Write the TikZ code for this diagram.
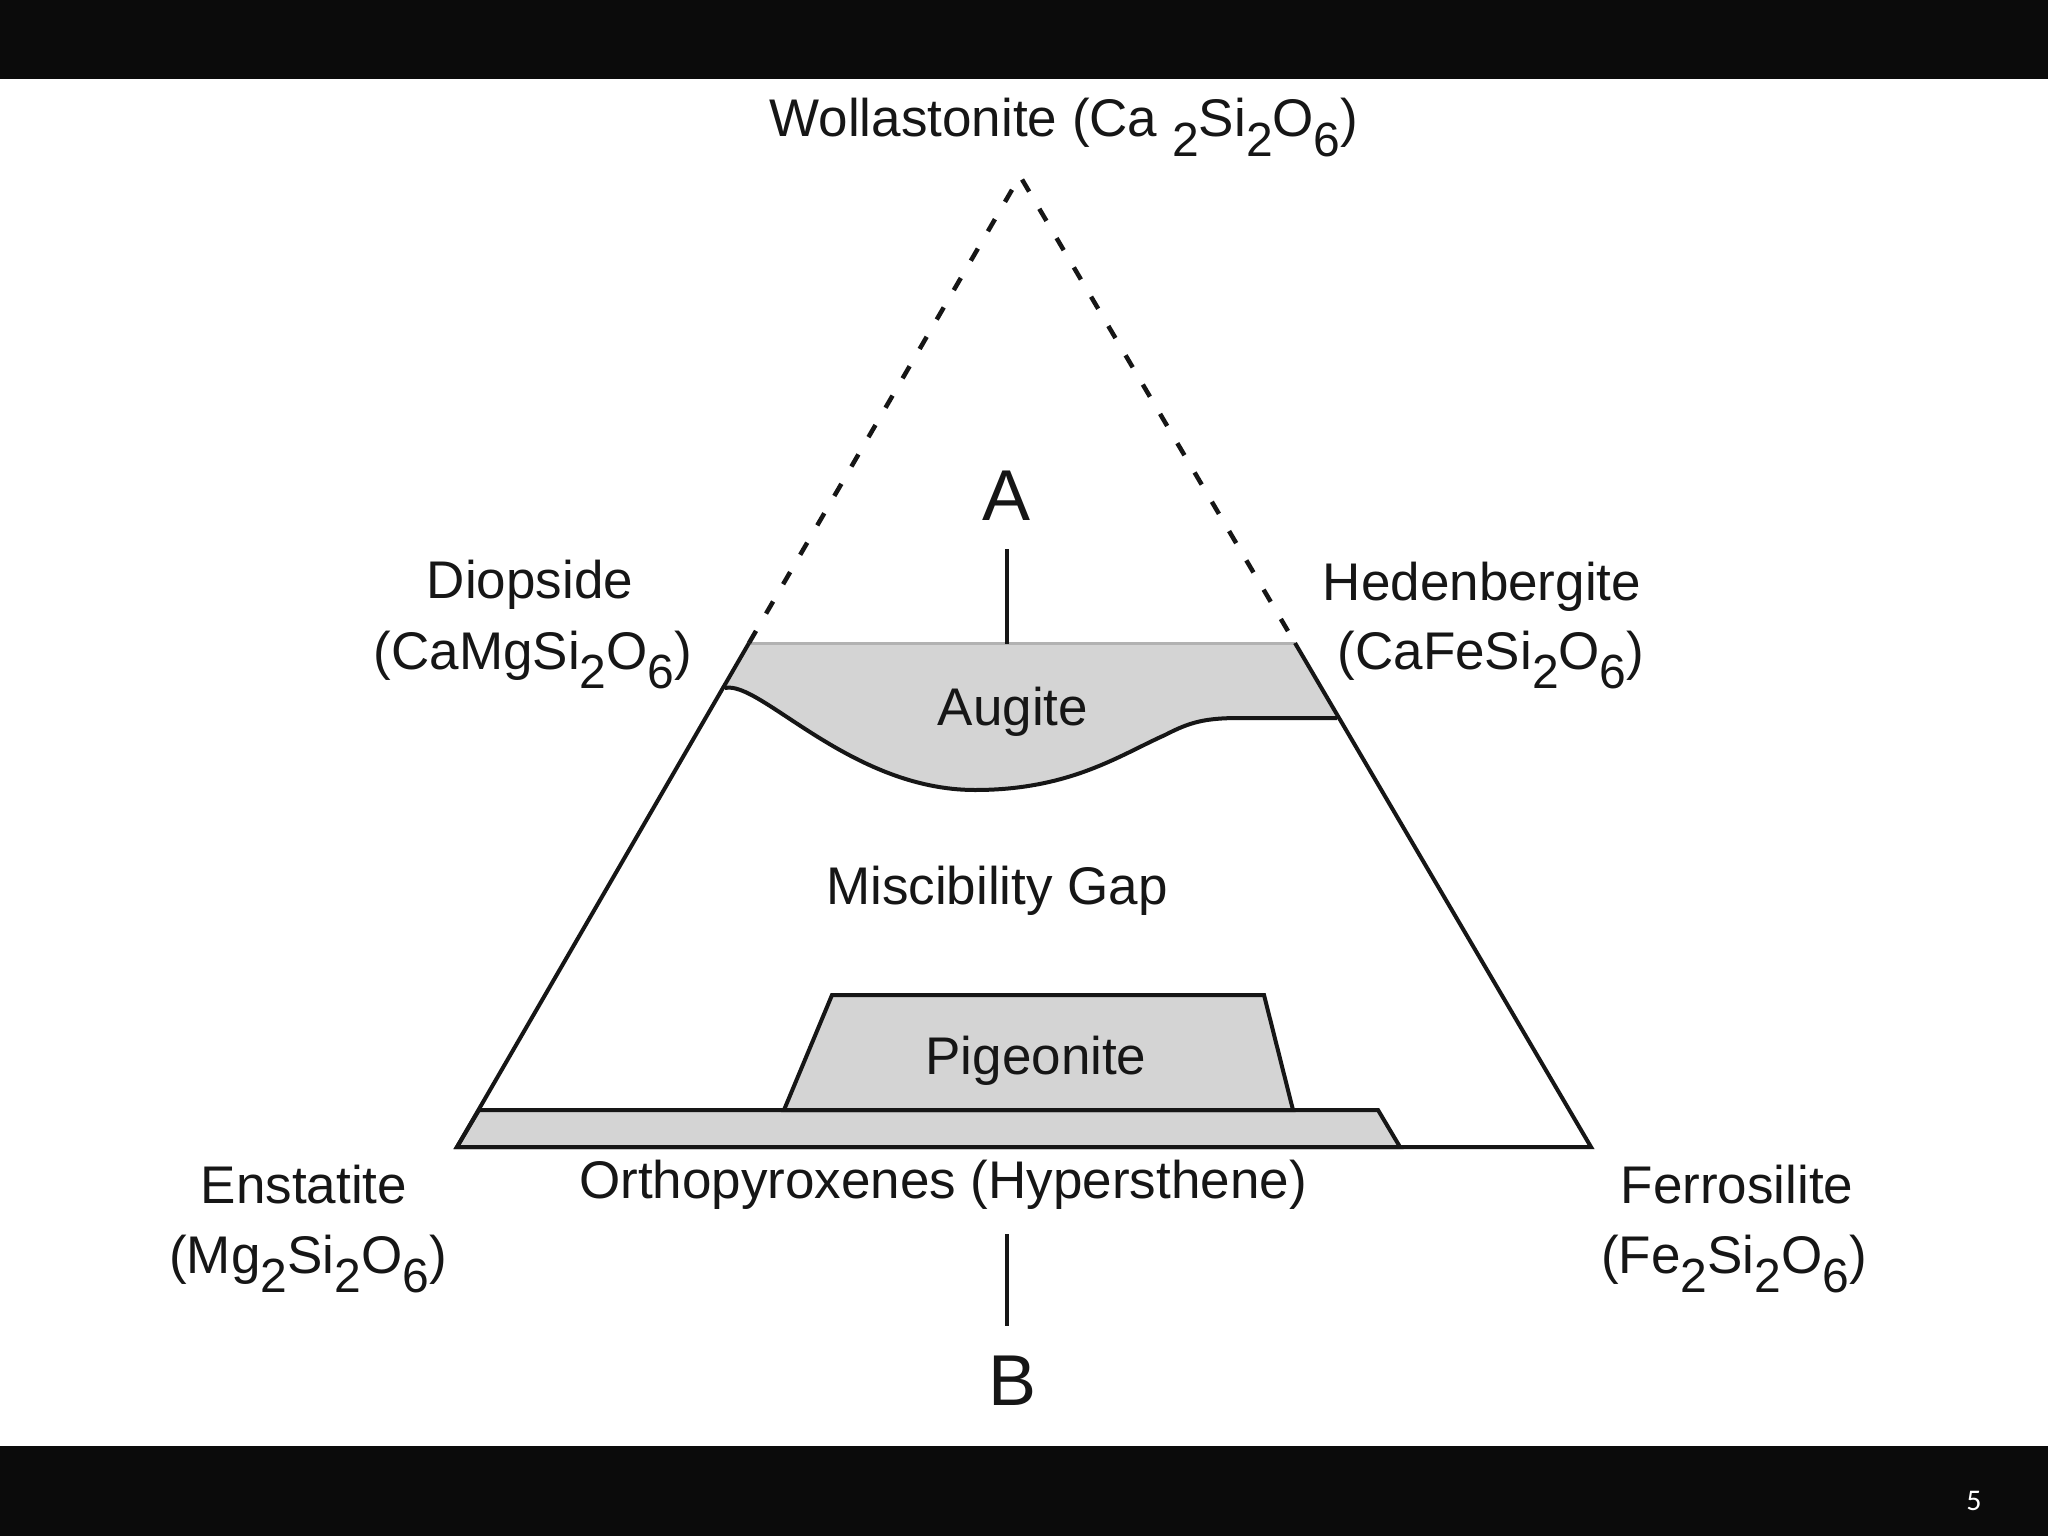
\documentclass[tikz,border=0pt]{standalone}
\usepackage{fontspec}
\setmainfont{Liberation Sans}
\newfontfamily\pagefont{Carlito}
\newcommand{\sbs}[1]{\raisebox{-0.36em}{\fontsize{48}{48}\selectfont #1}}
\definecolor{fillgray}{RGB}{212,212,212}
\definecolor{ink}{RGB}{22,22,22}
\definecolor{barblack}{RGB}{11,11,11}
\begin{document}
\begin{tikzpicture}[x=1pt,y=-1pt,
  lbl/.style={font=\fontsize{53}{60}\selectfont, text=ink, inner sep=0pt, anchor=base},
  big/.style={font=\fontsize{72}{80}\selectfont, text=ink, inner sep=0pt, anchor=base},
  sideline/.style={draw=ink, line width=4pt, line join=miter},
  zone/.style={fill=fillgray, draw=ink, line width=4pt, line join=miter},
  dashedge/.style={draw=ink, line width=4.5pt, dash pattern=on 14pt off 20pt}]
\useasboundingbox (0,0) rectangle (2048,1536);
\fill[white] (0,0) rectangle (2048,1536);
\fill[barblack] (0,0) rectangle (2048,79);
\fill[barblack] (0,1446) rectangle (2048,1536);
\node[font=\pagefont\fontsize{30}{30}\selectfont, text=white, inner sep=0pt, anchor=base] (pg) at (1974,1510) {5};
% corners
\coordinate (Wo) at (1020,176);
\coordinate (Di) at (749,643);
\coordinate (Hd) at (1295,643);
\coordinate (En) at (457,1147);
\coordinate (Fs) at (1591,1147);
\coordinate (AugL) at (725,688);
\coordinate (AugR) at (1337,718);
% augite
\fill[fillgray] (Di) -- (AugL) .. controls (760,680) and (850,790) .. (975,790)
  .. controls (1070,790) and (1120,755) .. (1165,735)
  .. controls (1190,722) and (1205,718) .. (1240,718) -- (AugR) -- (Hd) -- cycle;
\draw[gray!60, line width=3pt] (Di) -- (Hd);
\draw[sideline] (AugL) .. controls (760,680) and (850,790) .. (975,790)
  .. controls (1070,790) and (1120,755) .. (1165,735)
  .. controls (1190,722) and (1205,718) .. (1240,718) -- (AugR);
% orthopyroxene band and pigeonite
\draw[zone] (479,1110) -- (1378,1110) -- (1400,1147) -- (En) -- cycle;
\draw[zone] (784,1110) -- (832,995) -- (1264,995) -- (1293,1110) -- cycle;
% triangle
\draw[sideline] (Di) -- (En) -- (Fs) -- (Hd);
\draw[dashedge] (Di) -- (Wo) -- (Hd);
% A and B markers
\node[big] (A) at (1007,520) {A};
\coordinate (A1) at (1007,549);
\coordinate (A2) at (1007,644);
\draw[sideline] (A1) -- (A2);
\node[big] (B) at (1012,1405) {B};
\coordinate (B1) at (1007,1234);
\coordinate (B2) at (1007,1326);
\draw[sideline] (B1) -- (B2);
% labels
\node[lbl] (wol) at (1064,137) {Wollastonite (Ca \sbs{2}Si\sbs{2}O\sbs{6})};
\node[lbl] (dio1) at (530,598) {Diopside};
\node[lbl] (dio2) at (533,669) {(CaMgSi\sbs{2}O\sbs{6})};
\node[lbl] (hed1) at (1482,600) {Hedenbergite};
\node[lbl] (hed2) at (1491,669) {(CaFeSi\sbs{2}O\sbs{6})};
\node[lbl] (aug) at (1013,725) {Augite};
\node[lbl] (mis) at (997,904) {Miscibility Gap};
\node[lbl] (pig) at (1036,1074) {Pigeonite};
\node[lbl] (opx) at (943,1198) {Orthopyroxenes (Hypersthene)};
\node[lbl] (ens1) at (304,1203) {Enstatite};
\node[lbl] (ens2) at (308,1273) {(Mg\sbs{2}Si\sbs{2}O\sbs{6})};
\node[lbl] (fer1) at (1737,1203) {Ferrosilite};
\node[lbl] (fer2) at (1734,1273) {(Fe\sbs{2}Si\sbs{2}O\sbs{6})};
\end{tikzpicture}
\end{document}
